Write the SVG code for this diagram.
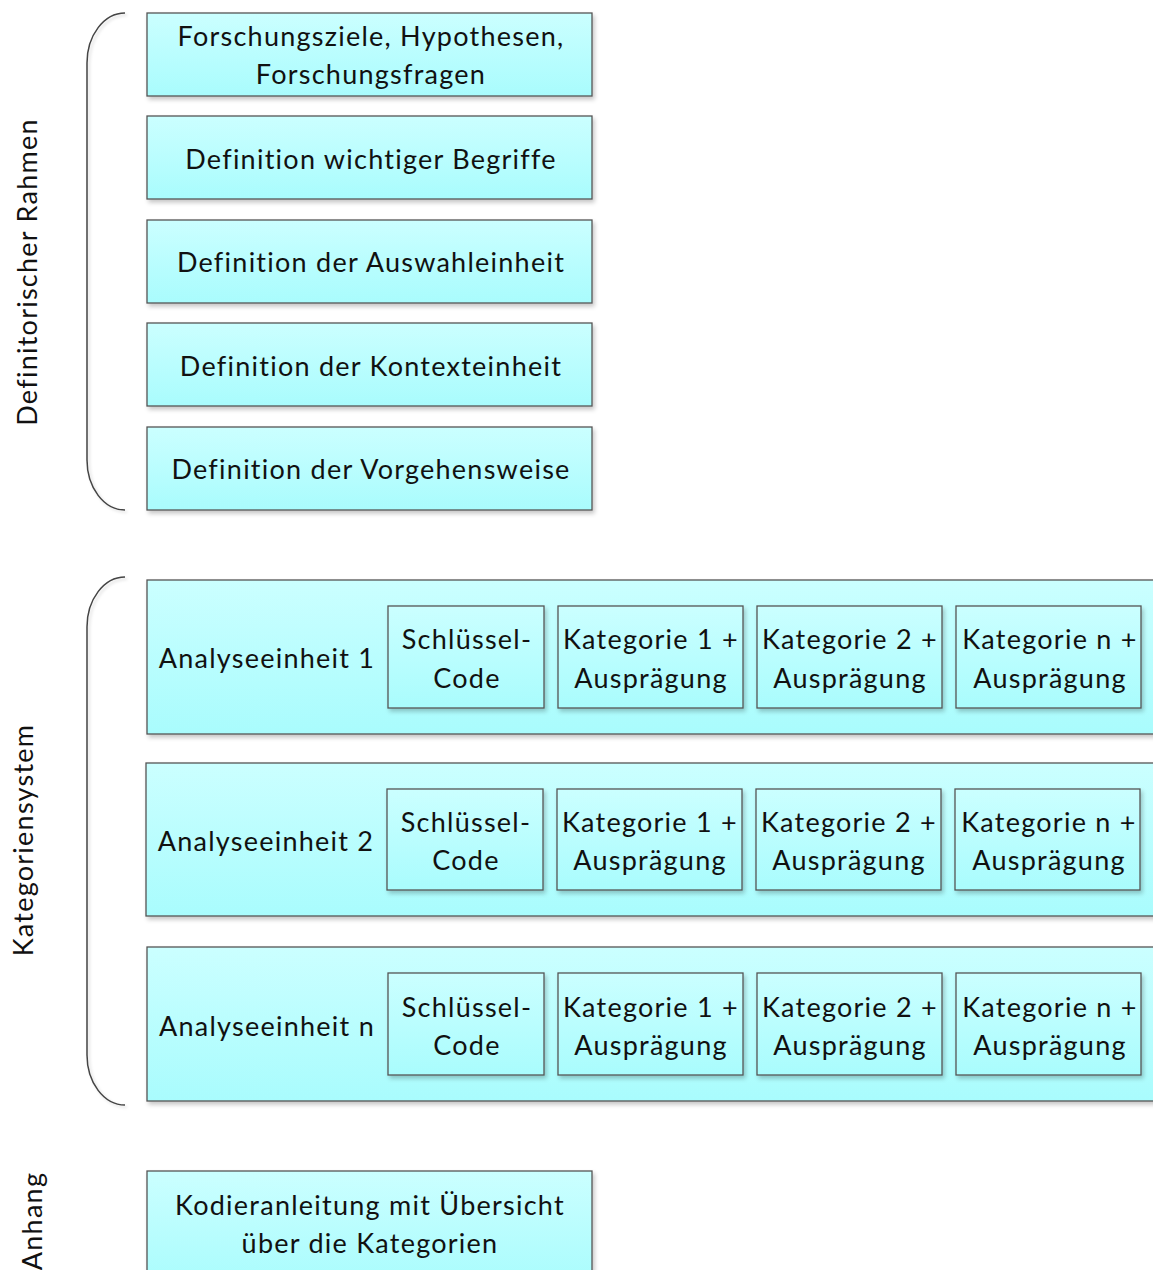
<svg xmlns="http://www.w3.org/2000/svg" width="1153" height="1270" viewBox="0 0 1153 1270">
<style>
.box{fill:url(#g);stroke:#555;stroke-width:1.3;filter:url(#sh)}
.t{font-family:Lato,"Liberation Sans",sans-serif;font-size:27px;letter-spacing:1.25px;fill:#111;text-anchor:middle;dominant-baseline:central}
.br{fill:none;stroke:#444;stroke-width:1.5;filter:url(#sh2)}
</style>
<defs>
<linearGradient id="g" x1="0" y1="0" x2="0" y2="1"><stop offset="0" stop-color="#cbffff"/><stop offset="1" stop-color="#a9fcfd"/></linearGradient>
<filter id="sh" x="-5%" y="-5%" width="115%" height="125%"><feDropShadow dx="2" dy="3" stdDeviation="2" flood-color="#000" flood-opacity="0.22"/></filter>
<filter id="sh2" x="-20%" y="-5%" width="140%" height="110%"><feDropShadow dx="2" dy="2" stdDeviation="1.5" flood-color="#000" flood-opacity="0.15"/></filter>
</defs>
<g id="connectors">
<path class="br" d="M125,13 A38,50 0 0 0 87,63 L87,460 A38,50 0 0 0 125,510"/>
<line class="br" x1="48" y1="262" x2="87" y2="262"/>
<path class="br" d="M125,577 A38,50 0 0 0 87,627 L87,1055 A38,50 0 0 0 125,1105"/>
<line class="br" x1="48" y1="840" x2="87" y2="840"/>
</g>
<g id="lbl-rahmen"><text class="t" transform="translate(26,272) rotate(-90)">Definitorischer Rahmen</text></g>
<g id="lbl-kat"><text class="t" transform="translate(22,840) rotate(-90)">Kategoriensystem</text></g>
<g id="lbl-anhang"><text class="t" transform="translate(31,1221) rotate(-90)">Anhang</text></g>
<g id="n1"><rect class="box" x="147" y="13" width="445" height="83"/><text class="t" x="371" y="35">Forschungsziele, Hypothesen,</text><text class="t" x="371" y="73">Forschungsfragen</text></g>
<g id="n2"><rect class="box" x="147" y="116" width="445" height="83"/><text class="t" x="371" y="158">Definition wichtiger Begriffe</text></g>
<g id="n3"><rect class="box" x="147" y="220" width="445" height="83"/><text class="t" x="371" y="261">Definition der Auswahleinheit</text></g>
<g id="n4"><rect class="box" x="147" y="323" width="445" height="83"/><text class="t" x="371" y="365">Definition der Kontexteinheit</text></g>
<g id="n5"><rect class="box" x="147" y="427" width="445" height="83"/><text class="t" x="371" y="468">Definition der Vorgehensweise</text></g>
<g id="row1"><rect class="box" x="147" y="580" width="1015" height="154"/><text class="t" x="267" y="657">Analyseeinheit 1</text>
<g id="r1c1"><rect class="box" x="388" y="606" width="156" height="102"/><text class="t" x="467" y="638">Schlüssel-</text><text class="t" x="467" y="677">Code</text></g>
<g id="r1c2"><rect class="box" x="558" y="606" width="185" height="102"/><text class="t" x="651" y="638">Kategorie 1 +</text><text class="t" x="651" y="677">Ausprägung</text></g>
<g id="r1c3"><rect class="box" x="757" y="606" width="185" height="102"/><text class="t" x="850" y="638">Kategorie 2 +</text><text class="t" x="850" y="677">Ausprägung</text></g>
<g id="r1c4"><rect class="box" x="956" y="606" width="185" height="102"/><text class="t" x="1050" y="638">Kategorie n +</text><text class="t" x="1050" y="677">Ausprägung</text></g>
</g>
<g id="row2"><rect class="box" x="146" y="763" width="1016" height="153"/><text class="t" x="266" y="840">Analyseeinheit 2</text>
<g id="r2c1"><rect class="box" x="387" y="789" width="156" height="101"/><text class="t" x="466" y="821">Schlüssel-</text><text class="t" x="466" y="859">Code</text></g>
<g id="r2c2"><rect class="box" x="557" y="789" width="185" height="101"/><text class="t" x="650" y="821">Kategorie 1 +</text><text class="t" x="650" y="859">Ausprägung</text></g>
<g id="r2c3"><rect class="box" x="756" y="789" width="185" height="101"/><text class="t" x="849" y="821">Kategorie 2 +</text><text class="t" x="849" y="859">Ausprägung</text></g>
<g id="r2c4"><rect class="box" x="955" y="789" width="185" height="101"/><text class="t" x="1049" y="821">Kategorie n +</text><text class="t" x="1049" y="859">Ausprägung</text></g>
</g>
<g id="row3"><rect class="box" x="147" y="947" width="1015" height="154"/><text class="t" x="267" y="1025">Analyseeinheit n</text>
<g id="r3c1"><rect class="box" x="388" y="973" width="156" height="102"/><text class="t" x="467" y="1006">Schlüssel-</text><text class="t" x="467" y="1044">Code</text></g>
<g id="r3c2"><rect class="box" x="558" y="973" width="185" height="102"/><text class="t" x="651" y="1006">Kategorie 1 +</text><text class="t" x="651" y="1044">Ausprägung</text></g>
<g id="r3c3"><rect class="box" x="757" y="973" width="185" height="102"/><text class="t" x="850" y="1006">Kategorie 2 +</text><text class="t" x="850" y="1044">Ausprägung</text></g>
<g id="r3c4"><rect class="box" x="956" y="973" width="185" height="102"/><text class="t" x="1050" y="1006">Kategorie n +</text><text class="t" x="1050" y="1044">Ausprägung</text></g>
</g>
<g id="n-anhang"><rect class="box" x="147" y="1171" width="445" height="115"/><text class="t" x="370" y="1204">Kodieranleitung mit Übersicht</text><text class="t" x="370" y="1242">über die Kategorien</text></g>
</svg>
